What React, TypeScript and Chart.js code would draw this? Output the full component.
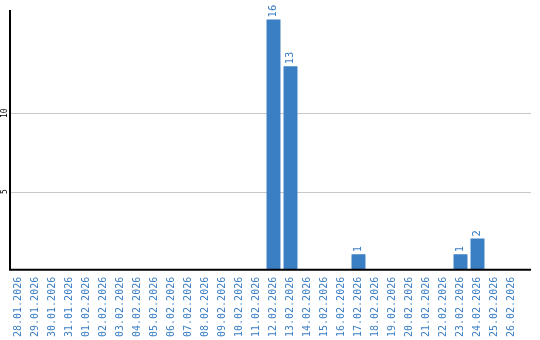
import React, { useEffect, useRef } from "react";
import { Chart, registerables } from "chart.js";

Chart.register(...registerables);

const categories = [
  "28.01.2026", "29.01.2026", "30.01.2026", "31.01.2026",
  "01.02.2026", "02.02.2026", "03.02.2026", "04.02.2026", "05.02.2026",
  "06.02.2026", "07.02.2026", "08.02.2026", "09.02.2026", "10.02.2026",
  "11.02.2026", "12.02.2026", "13.02.2026", "14.02.2026", "15.02.2026",
  "16.02.2026", "17.02.2026", "18.02.2026", "19.02.2026", "20.02.2026",
  "21.02.2026", "22.02.2026", "23.02.2026", "24.02.2026", "25.02.2026",
  "26.02.2026",
];
const values = [
  0, 0, 0, 0,
  0, 0, 0, 0, 0,
  0, 0, 0, 0, 0,
  0, 16, 13, 0, 0,
  0, 1, 0, 0, 0,
  0, 0, 1, 2, 0,
  0,
];
const yTickValues = [5, 10];

const BLUE = "#3a7ec4";
const MONO = "'DejaVu Sans Mono', monospace";

const extrasPlugin = {
  id: "extras",
  beforeDatasetsDraw(chart: any) {
    const { ctx, chartArea, scales } = chart;
    const y = scales.y;
    ctx.save();
    ctx.strokeStyle = "#c8c8c8";
    ctx.lineWidth = 1;
    for (const v of yTickValues) {
      const py = Math.round(y.getPixelForValue(v)) + 0.5;
      ctx.beginPath();
      ctx.moveTo(chartArea.left, py);
      ctx.lineTo(chartArea.right + 11, py);
      ctx.stroke();
    }
    ctx.fillStyle = "#000";
    ctx.font = `8px ${MONO}`;
    ctx.textAlign = "center";
    ctx.textBaseline = "middle";
    for (const v of yTickValues) {
      const py = y.getPixelForValue(v);
      ctx.save();
      ctx.translate(5, py);
      ctx.rotate(-Math.PI / 2);
      ctx.fillText(String(v), 0, 0);
      ctx.restore();
    }
    ctx.restore();
  },
  afterDatasetsDraw(chart: any) {
    const { ctx } = chart;
    const meta = chart.getDatasetMeta(0);
    ctx.save();
    ctx.fillStyle = BLUE;
    ctx.font = `10.5px ${MONO}`;
    ctx.textAlign = "left";
    ctx.textBaseline = "middle";
    meta.data.forEach((bar: any, i: number) => {
      const v = values[i];
      if (!v) return;
      ctx.save();
      ctx.translate(bar.x, bar.y - 2);
      ctx.rotate(-Math.PI / 2);
      ctx.fillText(String(v), 0, 0);
      ctx.restore();
    });
    const { chartArea } = chart;
    ctx.strokeStyle = "#000";
    ctx.lineWidth = 2;
    ctx.beginPath();
    ctx.moveTo(chartArea.left, chartArea.top);
    ctx.lineTo(chartArea.left, chartArea.bottom);
    ctx.lineTo(chartArea.right + 11, chartArea.bottom);
    ctx.stroke();
    ctx.restore();
  },
};

export default function App() {
  const ref = useRef<HTMLCanvasElement>(null);
  useEffect(() => {
    if (!ref.current) return;
    const chart = new Chart(ref.current, {
      type: "bar",
      data: {
        labels: categories,
        datasets: [
          {
            data: values,
            backgroundColor: BLUE,
            barPercentage: 0.82,
            categoryPercentage: 1,
          },
        ],
      },
      options: {
        animation: false,
        responsive: false,
        maintainAspectRatio: false,
        layout: { padding: { left: 10, top: 10, right: 20, bottom: -4 } },
        plugins: { legend: { display: false }, tooltip: { enabled: false } },
        scales: {
          x: {
            grid: { display: false, drawTicks: false },
            border: { display: false },
            ticks: {
              autoSkip: false,
              minRotation: 90,
              maxRotation: 90,
              color: BLUE,
              font: { family: MONO, size: 10 },
              padding: 7,
            },
          },
          y: {
            min: 0,
            max: 16.6,
            grid: { display: false, drawTicks: false },
            border: { display: false },
            ticks: { display: false },
          },
        },
      },
      plugins: [extrasPlugin],
    });
    return () => chart.destroy();
  }, []);
  return (
    <div style={{ position: "absolute", left: 0, top: 0, width: 540, height: 340, background: "#fff" }}>
      <canvas ref={ref} width={540} height={340} />
    </div>
  );
}
